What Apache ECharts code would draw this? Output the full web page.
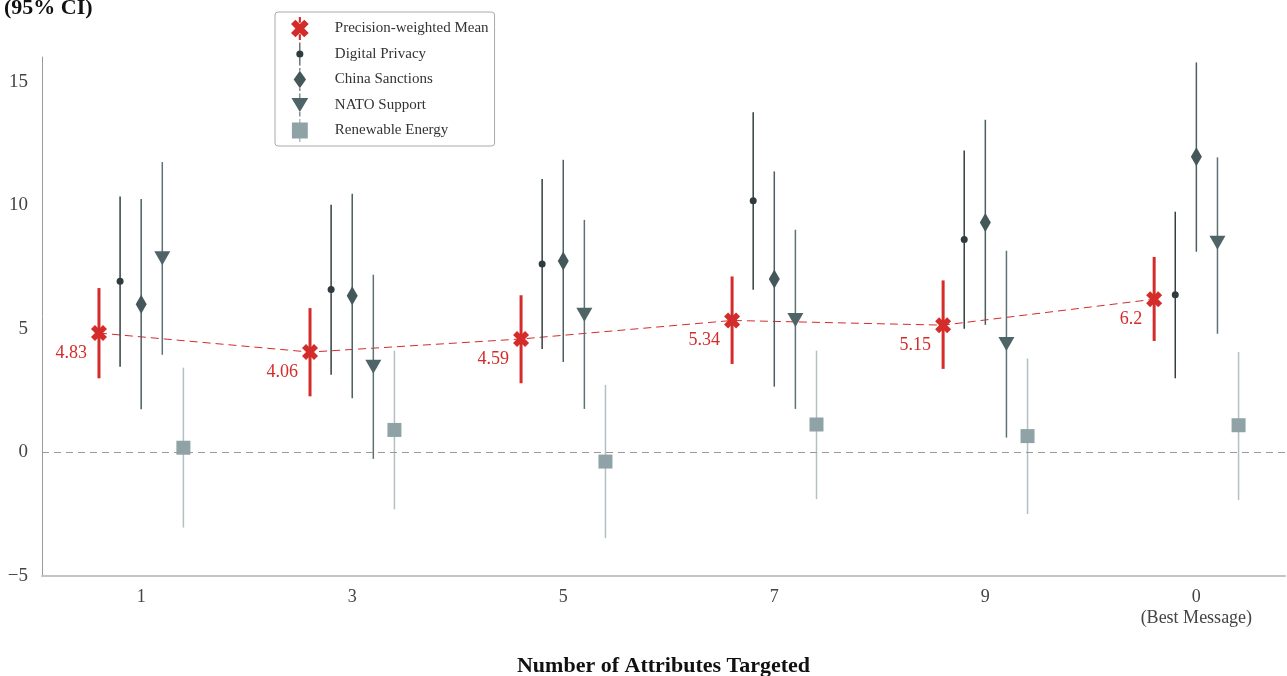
<!DOCTYPE html>
<html>
<head>
<meta charset="utf-8">
<script src="https://cdn.jsdelivr.net/npm/echarts@6/dist/echarts.min.js"></script>
<style>
  html, body { margin: 0; padding: 0; background: #fff; }
  #main { width: 1287px; height: 676px; }
</style>
</head>
<body>
<div id="main"></div>
<script>
// categories on the x axis
const categories = ['1', '3', '5', '7', '9', '0\n(Best Message)'];

// precision-weighted mean and its 95% CI
const meanVals = [4.83, 4.06, 4.59, 5.34, 5.15, 6.2];
const meanLow  = [3.00, 2.27, 2.80, 3.58, 3.38, 4.51];
const meanHigh = [6.65, 5.84, 6.36, 7.12, 6.96, 7.91];

// Digital Privacy
const dpVals = [6.93, 6.59, 7.62, 10.18, 8.62, 6.38];
const dpLow  = [3.47, 3.14, 4.18, 6.58, 5.00, 3.00];
const dpHigh = [10.36, 10.02, 11.06, 13.76, 12.22, 9.74];

// China Sanctions
const cnVals = [6.00, 6.34, 7.75, 7.02, 9.30, 11.96];
const cnLow  = [1.75, 2.19, 3.66, 2.66, 5.16, 8.12];
const cnHigh = [10.25, 10.47, 11.84, 11.37, 13.46, 15.78];

// NATO Support
const natoVals = [7.86, 3.47, 5.57, 5.36, 4.39, 8.48];
const natoLow  = [3.95, -0.26, 1.76, 1.76, 0.60, 4.80];
const natoHigh = [11.75, 7.19, 9.41, 9.01, 8.16, 11.94];

// Renewable Energy
const reVals = [0.19, 0.91, -0.37, 1.13, 0.66, 1.10];
const reLow  = [-3.04, -2.30, -3.47, -1.89, -2.49, -1.92];
const reHigh = [3.43, 4.12, 2.73, 4.12, 3.80, 4.06];

const yTicks = [-5, 0, 5, 10, 15];

const RED = '#d42b2b';
const serif = '"Liberation Serif", "Times New Roman", serif';

// marker shapes (fat X like matplotlib 'X', legend icons carry the error bar)
const xMark = 'path://M5,20L10,15L15,20L20,15L15,10L20,5L15,0L10,5L5,0L0,5L5,10L0,15Z';
const iconMean = 'path://M5,23L10,18L15,23L20,18L15,13L20,8L15,3L10,8L5,3L0,8L5,13L0,18Z M8.8,0L11.2,0L11.2,6.5L8.8,6.5Z M8.8,19.5L11.2,19.5L11.2,26L8.8,26Z';
const iconDP = 'path://M6,13A4,4 0 1,0 14,13A4,4 0 1,0 6,13Z M9.4,0L10.6,0L10.6,9L9.4,9Z M9.4,17L10.6,17L10.6,26L9.4,26Z';
const iconCN = 'path://M10,3L17,13L10,23L3,13Z M9.4,0L10.6,0L10.6,3L9.4,3Z M9.4,23L10.6,23L10.6,26L9.4,26Z';
const iconNATO = 'path://M0.5,5L19.5,5L10,21Z M9.4,0L10.6,0L10.6,5L9.4,5Z M9.4,21L10.6,21L10.6,26L9.4,26Z';
const iconRE = 'path://M1,4L19,4L19,22L1,22Z M9.4,0L10.6,0L10.6,4L9.4,4Z M9.4,22L10.6,22L10.6,26L9.4,26Z';

function pts(vals, off) {
  return vals.map((v, i) => [i + off, v]);
}
function bars(low, high, off) {
  return low.map((l, i) => [i + off, l, high[i]]);
}
function errSeries(name, data, color, width) {
  return {
    name: name,
    type: 'custom',
    z: 2,
    silent: true,
    data: data,
    renderItem: function (params, api) {
      const x = api.value(0);
      const a = api.coord([x, api.value(1)]);
      const b = api.coord([x, api.value(2)]);
      return {
        type: 'line',
        shape: { x1: a[0], y1: a[1], x2: b[0], y2: b[1] },
        style: { stroke: color, lineWidth: width }
      };
    }
  };
}

const chart = echarts.init(document.getElementById('main'));
chart.setOption({
  animation: false,
  backgroundColor: '#fff',
  textStyle: { fontFamily: serif },
  graphic: [{
    type: 'text',
    left: 4,
    top: -3,
    style: { text: '(95% CI)', font: 'bold 22px ' + serif, fill: '#111' }
  }],
  legend: {
    left: 275,
    top: 12,
    orient: 'vertical',
    padding: [5, 6, 4, 16],
    itemWidth: 20,
    itemHeight: 23,
    itemGap: 2.5,
    borderColor: '#aaa',
    borderWidth: 1,
    borderRadius: 3,
    textStyle: { fontFamily: serif, fontSize: 15, color: '#333', padding: [0, 0, 0, 20] },
    data: [
      { name: 'Precision-weighted Mean', icon: iconMean },
      { name: 'Digital Privacy', icon: iconDP },
      { name: 'China Sanctions', icon: iconCN },
      { name: 'NATO Support', icon: iconNATO },
      { name: 'Renewable Energy', icon: iconRE }
    ]
  },
  grid: { left: 42, right: 2, top: 57, bottom: 100, outerBoundsMode: 'none', containLabel: false },
  xAxis: {
    type: 'value',
    min: -0.47,
    max: 5.42,
    name: 'Number of Attributes Targeted',
    nameLocation: 'middle',
    nameGap: 79,
    nameTextStyle: { fontFamily: serif, fontSize: 22, fontWeight: 'bold', color: '#111' },
    axisLine: { show: true, onZero: false, lineStyle: { color: '#c4c4c4', width: 2 } },
    axisTick: { show: false },
    splitLine: { show: false },
    axisLabel: {
      customValues: [0, 1, 2, 3, 4, 5],
      formatter: v => categories[Math.round(v)],
      fontFamily: serif,
      fontSize: 18,
      color: '#444',
      margin: 11,
      lineHeight: 21
    }
  },
  yAxis: {
    type: 'value',
    min: -5,
    max: 16,
    interval: 5,
    axisLine: { show: true, onZero: false, lineStyle: { color: '#9a9a9a', width: 1 } },
    axisTick: { show: false },
    splitLine: { show: false },
    axisLabel: {
      customValues: yTicks,
      formatter: v => (v < 0 ? '\u2212' + Math.abs(v) : String(v)),
      fontFamily: serif,
      fontSize: 19,
      color: '#444',
      margin: 14
    }
  },
  series: [
    {
      name: 'meanLine',
      type: 'line',
      z: 1,
      silent: true,
      showSymbol: false,
      data: pts(meanVals, -0.2),
      lineStyle: { color: RED, width: 1, type: [8, 5] },
      markLine: {
        silent: true,
        symbol: 'none',
        label: { show: false },
        lineStyle: { color: '#999', width: 1, type: [7, 5] },
        data: [{ yAxis: 0 }]
      }
    },
    errSeries('meanErr', bars(meanLow, meanHigh, -0.2), RED, 3),
    errSeries('dpErr', bars(dpLow, dpHigh, -0.1), '#34403f', 1.5),
    errSeries('cnErr', bars(cnLow, cnHigh, 0), '#4b5f62', 1.5),
    errSeries('natoErr', bars(natoLow, natoHigh, 0.1), '#5e7275', 1.5),
    errSeries('reErr', bars(reLow, reHigh, 0.2), '#b2c0c3', 1.5),
    {
      name: 'Precision-weighted Mean',
      type: 'scatter',
      z: 4,
      symbol: xMark,
      symbolSize: 16,
      itemStyle: { color: RED, opacity: 1 },
      data: pts(meanVals, -0.2),
      label: {
        show: true,
        position: 'left',
        distance: 4,
        offset: [0, 20],
        formatter: p => String(meanVals[p.dataIndex]),
        fontFamily: serif,
        fontSize: 18,
        color: RED
      }
    },
    {
      name: 'Digital Privacy',
      type: 'scatter',
      z: 3,
      symbol: 'circle',
      symbolSize: 7,
      itemStyle: { color: '#2f3b3e', opacity: 1 },
      data: pts(dpVals, -0.1)
    },
    {
      name: 'China Sanctions',
      type: 'scatter',
      z: 3,
      symbol: 'diamond',
      symbolSize: [11, 19],
      itemStyle: { color: '#44585b', opacity: 1 },
      data: pts(cnVals, 0)
    },
    {
      name: 'NATO Support',
      type: 'scatter',
      z: 3,
      symbol: 'triangle',
      symbolRotate: 180,
      symbolSize: [16, 14],
      itemStyle: { color: '#4f6467', opacity: 1 },
      data: pts(natoVals, 0.1)
    },
    {
      name: 'Renewable Energy',
      type: 'scatter',
      z: 3,
      symbol: 'rect',
      symbolSize: 14,
      itemStyle: { color: '#8fa3a7', opacity: 1 },
      data: pts(reVals, 0.2)
    }
  ]
});
</script>
</body>
</html>
